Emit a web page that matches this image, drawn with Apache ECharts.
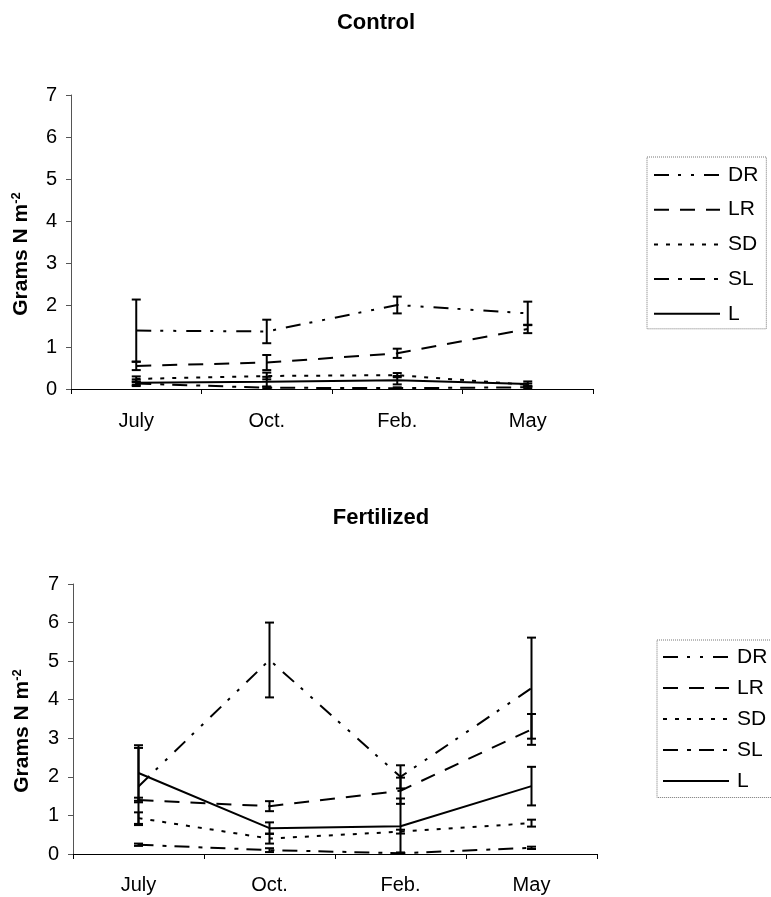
<!DOCTYPE html>
<html>
<head>
<meta charset="utf-8">
<script src="https://cdn.jsdelivr.net/npm/echarts@6/dist/echarts.min.js"></script>
<style>html,body{margin:0;padding:0;background:#fff;}#c{width:771px;height:897px;}</style>
</head>
<body>
<div id="c"></div>
<script>
var categories = ['July', 'Oct.', 'Feb.', 'May'];
var yTicks = [0, 1, 2, 3, 4, 5, 6, 7];
var seriesNames = ['DR', 'LR', 'SD', 'SL', 'L'];
var chartTitles = ['Control', 'Fertilized'];

// Control
var ctrlDR = [1.39, 1.37, 2.00, 1.80];
var ctrlDRErr = [0.74, 0.28, 0.20, 0.28];
var ctrlLR = [0.55, 0.63, 0.85, 1.43];
var ctrlLRErr = [0.10, 0.18, 0.11, 0.10];
var ctrlSD = [0.24, 0.31, 0.33, 0.10];
var ctrlSDErr = [0.06, 0.08, 0.05, 0.03];
var ctrlSL = [0.13, 0.03, 0.02, 0.04];
var ctrlSLErr = [0.03, 0.03, 0.02, 0.02];
var ctrlL = [0.15, 0.17, 0.21, 0.12];
var ctrlLErr = [0.08, 0.12, 0.10, 0.06];

// Fertilized
var fertDR = [1.75, 5.03, 2.00, 4.30];
var fertDRErr = [1.00, 0.97, 0.30, 1.31];
var fertLR = [1.40, 1.24, 1.64, 3.23];
var fertLRErr = [0.06, 0.13, 0.34, 0.40];
var fertSD = [0.93, 0.40, 0.58, 0.80];
var fertSDErr = [0.15, 0.13, 0.05, 0.09];
var fertSL = [0.24, 0.10, 0.02, 0.16];
var fertSLErr = [0.03, 0.05, 0.02, 0.03];
var fertL = [2.10, 0.67, 0.72, 1.76];
var fertLErr = [0.72, 0.15, 0.72, 0.50];

var dashes = {
  DR: [15, 9, 3, 10, 3, 10],
  LR: [15, 11],
  SD: [4, 8],
  SL: [15, 9, 4, 8],
  L: 'solid'
};

var FONT = 'Liberation Sans, Arial, sans-serif';

function lineSeries(name, vals, gi) {
  return {
    name: name, type: 'line', xAxisIndex: gi, yAxisIndex: gi,
    data: vals, symbol: 'none', silent: true, animation: false,
    lineStyle: { color: '#000', width: 2, type: dashes[name] },
    itemStyle: { color: '#000' }
  };
}
function errSeries(name, vals, errs, gi) {
  var d = vals.map(function (v, i) { return [i, v, errs[i]]; });
  return {
    name: name + ' err', type: 'custom', xAxisIndex: gi, yAxisIndex: gi,
    data: d, silent: true, animation: false, encode: { x: 0, y: 1 },
    renderItem: function (params, api) {
      var x = api.value(0), v = api.value(1), e = api.value(2);
      var lo = Math.max(0, v - e);
      var top = api.coord([x, v + e]);
      var bot = api.coord([x, lo]);
      var hw = 4.5;
      var st = { stroke: '#000', lineWidth: 2 };
      return {
        type: 'group',
        children: [
          { type: 'line', shape: { x1: top[0], y1: top[1], x2: bot[0], y2: bot[1] }, style: st },
          { type: 'line', shape: { x1: top[0] - hw, y1: top[1], x2: top[0] + hw, y2: top[1] }, style: st },
          { type: 'line', shape: { x1: bot[0] - hw, y1: bot[1], x2: bot[0] + hw, y2: bot[1] }, style: st }
        ]
      };
    }
  };
}

var ctrl = { DR: [ctrlDR, ctrlDRErr], LR: [ctrlLR, ctrlLRErr], SD: [ctrlSD, ctrlSDErr], SL: [ctrlSL, ctrlSLErr], L: [ctrlL, ctrlLErr] };
var fert = { DR: [fertDR, fertDRErr], LR: [fertLR, fertLRErr], SD: [fertSD, fertSDErr], SL: [fertSL, fertSLErr], L: [fertL, fertLErr] };

var series = [];
[ctrl, fert].forEach(function (set, gi) {
  seriesNames.forEach(function (n) {
    series.push(lineSeries(n, set[n][0], gi));
    series.push(errSeries(n, set[n][0], set[n][1], gi));
  });
});

function xAxis(gi, margin) {
  return {
    type: 'category', gridIndex: gi, data: categories, boundaryGap: true,
    axisLine: { lineStyle: { color: '#000', width: 1 } },
    axisTick: { show: true, length: 5, lineStyle: { color: '#000' } },
    axisLabel: { color: '#000', fontSize: 20, fontFamily: FONT, margin: margin },
    splitLine: { show: false }
  };
}
function yAxis(gi, gap) {
  return {
    type: 'value', gridIndex: gi, min: yTicks[0], max: yTicks[yTicks.length - 1], interval: 1,
    name: 'Grams N m{sup|-2}', nameLocation: 'middle', nameRotate: 90, nameGap: gap,
    nameTextStyle: {
      color: '#000', fontSize: 21, fontWeight: 'bold', fontFamily: FONT, padding: [0, 24, 0, 0],
      rich: { sup: { fontSize: 13, fontWeight: 'bold', fontFamily: FONT, verticalAlign: 'top', padding: [0, 0, 10, 0] } }
    },
    axisLine: { show: true, lineStyle: { color: '#555', width: 1 } },
    axisTick: { show: true, length: 5, lineStyle: { color: '#555' } },
    axisLabel: { color: '#000', fontSize: 20, fontFamily: FONT, margin: 14 },
    splitLine: { show: false }
  };
}

function legend(left, top, gap, padding) {
  return {
    data: seriesNames, orient: 'vertical', left: left, top: top,
    itemWidth: 66, itemHeight: 14, itemGap: gap, padding: padding,
    borderColor: '#777', borderWidth: 1, borderType: 'dotted',
    selectedMode: false,
    itemStyle: { opacity: 0 },
    textStyle: { color: '#000', fontSize: 21, lineHeight: 21, fontFamily: FONT, padding: [0, 0, 0, 3] }
  };
}

var chart = echarts.init(document.getElementById('c'));
chart.setOption({
  backgroundColor: '#fff',
  animation: false,
  graphic: [
    { type: 'text', x: 376, y: 23, silent: true, style: { text: chartTitles[0], fontSize: 22, fontWeight: 'bold', fontFamily: FONT, fill: '#000', align: 'center', verticalAlign: 'middle' } },
    { type: 'text', x: 381, y: 518, silent: true, style: { text: chartTitles[1], fontSize: 22, fontWeight: 'bold', fontFamily: FONT, fill: '#000', align: 'center', verticalAlign: 'middle' } }
  ],
  legend: [
    legend(647, 157, 13.7, [7.5, 8, 4.5, 6]),
    legend(657, 640, 10, [6.5, 40, 6, 5])
  ],
  grid: [
    { left: 71, top: 95, width: 522, height: 294, containLabel: false },
    { left: 73, top: 584, width: 524, height: 270, containLabel: false }
  ],
  xAxis: [xAxis(0, 22), xAxis(1, 21)],
  yAxis: [yAxis(0, 38), yAxis(1, 39)],
  series: series
});
</script>
</body>
</html>
